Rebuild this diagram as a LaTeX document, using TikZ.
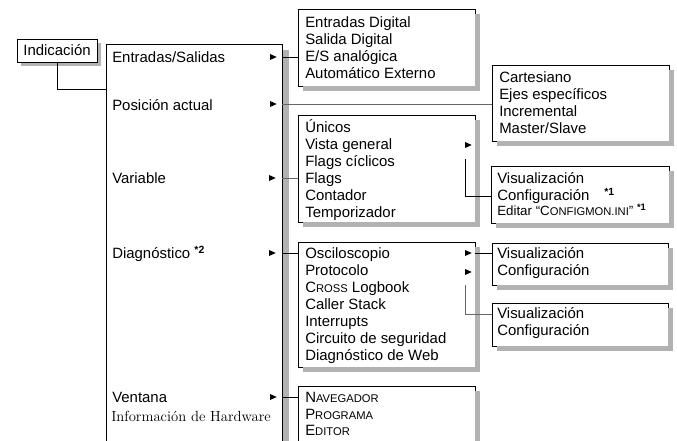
\documentclass[tikz,border=0pt]{standalone}
\usepackage{fontspec}
\setsansfont{Liberation Sans}
\usetikzlibrary{fit,shapes.geometric}

\definecolor{shadowgray}{RGB}{178,178,178}

% small caps made by hand (the sans font has none)
\newcommand\fakesc[2]{#1{\fontsize{8.4}{10}\selectfont #2}}

\begin{document}
\begin{tikzpicture}[x=0.75pt,y=-0.75pt,
    box/.style={draw,line width=0.7pt,fill=white,inner sep=0pt},
    shadowline/.style={draw=shadowgray,line width=3.5pt},
    item/.style={anchor=west,inner sep=0pt,font=\sffamily\fontsize{11.2}{13}\selectfont,text height=8pt,text depth=1pt},
    tri/.style={isosceles triangle,fill,inner sep=0pt,minimum height=5pt,minimum width=4.5pt,isosceles triangle stretches},
    link/.style={line width=0.7pt},
    thinlink/.style={black!60,line width=0.5pt}]
  \useasboundingbox (0,0) rectangle (677,441);

  % menu boxes
  \node[box,fit={(17,39) (97,62)}] (ind) {};
  \node[item,anchor=center] at (ind.center) {Indicación};
  \node[box,fit={(106,44) (282,452)}] (main) {};
  \node[box,fit={(298,9) (475,86)}] (io) {};
  \node[box,fit={(492,65) (669,141)}] (pos) {};
  \node[box,fit={(298,115) (475,222)}] (var) {};
  \node[box,fit={(491,166) (669,223)}] (vis) {};
  \node[box,fit={(298,242) (475,367)}] (diag) {};
  \node[box,fit={(492,243) (668,285)}] (osc) {};
  \node[box,fit={(492,303) (668,346)}] (prot) {};
  \node[box,fit={(298,386) (475,452)}] (win) {};

  % shadows: a thick grey stroke along the right and lower side of each box
  \draw[shadowline,line width=2.6pt] (99.5,43) -- (99.5,66) (21,64.5) -- (101,64.5);
  \draw[shadowline,line width=4.8pt] (286,50) -- (286,460);
  \foreach \l/\t/\r/\b in {298/9/475/86,492/65/669/141,298/115/475/222,491/166/669/223,
                           298/242/475/367,492/243/668/285,492/303/668/346,298/386/475/452}
    \draw[shadowline] (\r+2.8,\t+5) -- (\r+2.8,\b+5) (\l+5,\b+2.8) -- (\r+5,\b+2.8);

  % main menu
  \node[item] (m1) at (112,58) {Entradas/Salidas};
  \node[item] (m2) at (112,106) {Posición actual};
  \node[item] (m3) at (112,179) {Variable};
  \node[item] (m4) at (112,254) {Diagnóstico \textsuperscript{\textbf{*2}}};
  \node[item] (m5) at (112,398) {Ventana};
  \node[item,font=\rmfamily\fontsize{11}{13}\selectfont] (m6) at (111,417) {Información de Hardware};
  \node[tri] (a1) at (272,57) {};
  \node[tri] (a2) at (272,104) {};
  \node[tri] (a3) at (271,178) {};
  \node[tri] (a4) at (271,253) {};
  \node[tri] (a5) at (272,397) {};

  % sub menus
  \foreach \t [count=\i from 0] in {Entradas Digital,Salida Digital,E/S analógica,Automático Externo}
    \node[item] (io\i) at (305,23+17*\i) {\t};
  \foreach \t [count=\i from 0] in {Cartesiano,Ejes específicos,Incremental,Master/Slave}
    \node[item] (pos\i) at (499,77.5+17*\i) {\t};
  \foreach \t [count=\i from 0] in {Únicos,Vista general,Flags cíclicos,Flags,Contador,Temporizador}
    \node[item] (var\i) at (305,128+17*\i) {\t};
  \node[tri] (a6) at (467,145) {};
  \node[item] (vis1) at (497,179) {Visualización};
  \node[item] (vis2) at (497,196) {Configuración\quad\textsuperscript{\textbf{*1}}};
  \node[item,font=\sffamily\fontsize{10}{12}\selectfont] (vis3) at (497,211) {Editar ``\fakesc{C}{ONFIGMON.INI}'' \textsuperscript{\textbf{*1}}};
  \foreach \t [count=\i from 0] in {Osciloscopio,Protocolo,\fakesc{C}{ROSS} Logbook,Caller Stack,Interrupts,Circuito de seguridad,Diagnóstico de Web}
    \node[item] (diag\i) at (305,254+17*\i) {\t};
  \node[tri] (a7) at (467,253) {};
  \node[tri] (a8) at (467,272) {};
  \node[item] (osc1) at (497,254) {Visualización};
  \node[item] (osc2) at (497,271) {Configuración};
  \node[item] (prot1) at (497,314) {Visualización};
  \node[item] (prot2) at (497,330.5) {Configuración};
  \foreach \t [count=\i from 0] in {\fakesc{N}{AVEGADOR},\fakesc{P}{ROGRAMA},\fakesc{E}{DITOR}}
    \node[item] (win\i) at (305,398+16.5*\i) {\t};

  % connectors
  \coordinate (indlink) at (106,89);
  \coordinate (vgdrop) at (465,159);
  \coordinate (prdrop) at (465,285);
  \draw[link] (ind.south) |- (indlink);
  \draw[link] (main.east |- a1) -- (io.west |- a1);
  \draw[thinlink] (main.east |- a2) -- (pos.west |- a2);
  \draw[thinlink] (main.east |- a3) -- (var.west |- a3);
  \draw[link] (main.east |- a4) -- (diag.west |- a4);
  \draw[link] (main.east |- a5) -- (win.west |- a5);
  \draw[link] (vgdrop) |- (vis.west |- vis2);
  \draw[link] (diag.east |- a7) -- (osc.west |- a7);
  \draw[thinlink] (prdrop) |- (prot.west |- prot1);
\end{tikzpicture}
\end{document}
